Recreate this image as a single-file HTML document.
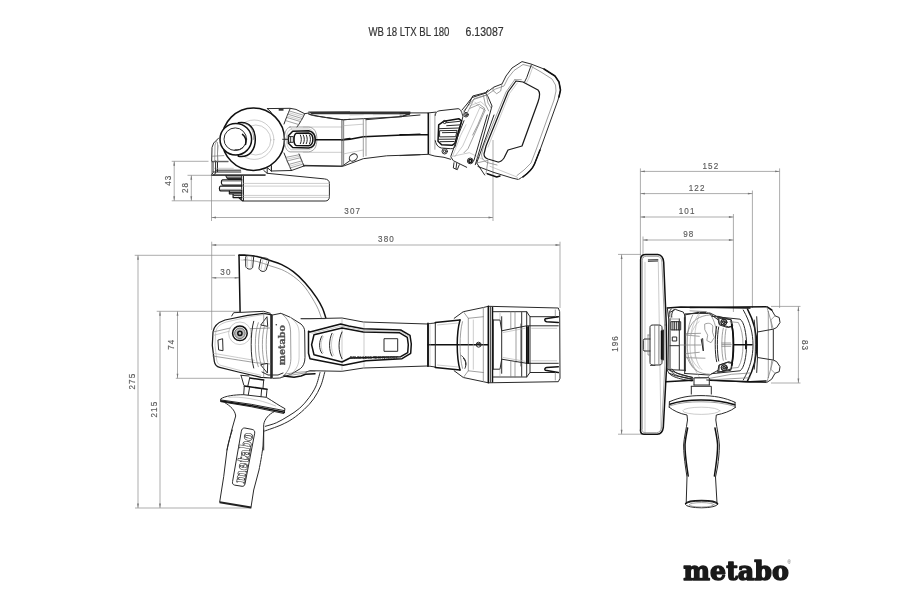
<!DOCTYPE html>
<html><head><meta charset="utf-8"><title>WB 18 LTX BL 180</title>
<style>
html,body{margin:0;padding:0;background:#fff;}
svg{display:block;filter:blur(.4px)}
.m{stroke:#8a8a8a;stroke-width:.7;fill:none}
.ar{fill:#777;stroke:none}
.d{stroke:#2a2a2a;stroke-width:1;fill:none;stroke-linejoin:round;stroke-linecap:round}
.k{stroke:#111;stroke-width:1.5;fill:none;stroke-linejoin:round;stroke-linecap:round}
.g{stroke:#777;stroke-width:.7;fill:none;stroke-linejoin:round;stroke-linecap:round}
.l{stroke:#aaa;stroke-width:.6;fill:none;stroke-linejoin:round;stroke-linecap:round}
.f{fill:#333;stroke:none}
.wk{stroke:#111;stroke-width:1.5;fill:#fff;stroke-linejoin:round}
.w{fill:#fff;stroke:#2a2a2a;stroke-width:1;stroke-linejoin:round}
.t{font-family:"Liberation Sans",sans-serif;font-size:9.4px;fill:#5a5a5a;stroke:#5a5a5a;stroke-width:.15;letter-spacing:1.3px}
.ti{font-family:"Liberation Sans",sans-serif;font-size:12.6px;fill:#333;stroke:#333;stroke-width:.2}
.logo{font-family:"DejaVu Serif","Liberation Serif",serif;font-weight:bold;font-size:26.5px;fill:#1a1a1a;stroke:#1a1a1a;stroke-width:1.5;stroke-linejoin:round}
.mt{font-family:"DejaVu Serif",serif;font-weight:bold;font-size:9.6px;fill:#555;stroke:#555;stroke-width:.35}
.d2{stroke:#1a1a1a;stroke-width:1.25;fill:none;stroke-linejoin:round;stroke-linecap:round}
.bt{font-family:"Liberation Sans",sans-serif;font-weight:bold;font-size:2.6px;fill:#222}
.ht{font-family:"DejaVu Serif",serif;font-weight:bold;font-size:15.5px;fill:#fff;stroke:#333;stroke-width:.7}
.reg{font-family:"Liberation Sans",sans-serif;font-size:4.5px;fill:#555}
</style></head><body>
<svg width="900" height="600" viewBox="0 0 900 600">
<rect width="900" height="600" fill="#fff"/>
<line class="m" x1="171.7" y1="161.3" x2="208.5" y2="161.3"/>
<line class="m" x1="187.5" y1="175.3" x2="215.0" y2="175.3"/>
<line class="m" x1="171.7" y1="200.8" x2="243.0" y2="200.8"/>
<line class="m" x1="174.2" y1="161.3" x2="174.2" y2="200.8"/>
<line class="m" x1="191.3" y1="175.3" x2="191.3" y2="200.8"/>
<line class="m" x1="211.5" y1="160.0" x2="211.5" y2="221.0"/>
<line class="m" x1="211.5" y1="217.5" x2="493.0" y2="217.5"/>
<line class="m" x1="493.0" y1="140.0" x2="493.0" y2="221.0"/>
<line class="m" x1="211.7" y1="241.7" x2="211.7" y2="330.0"/>
<line class="m" x1="211.7" y1="245.0" x2="560.0" y2="245.0"/>
<line class="m" x1="560.0" y1="241.7" x2="560.0" y2="308.0"/>
<line class="m" x1="134.7" y1="255.3" x2="235.0" y2="255.3"/>
<line class="m" x1="138.0" y1="255.3" x2="138.0" y2="508.0"/>
<line class="m" x1="156.7" y1="311.3" x2="240.0" y2="311.3"/>
<line class="m" x1="160.0" y1="311.3" x2="160.0" y2="508.0"/>
<line class="m" x1="177.5" y1="311.3" x2="177.5" y2="378.3"/>
<line class="m" x1="175.8" y1="378.3" x2="240.0" y2="378.3"/>
<line class="m" x1="135.0" y1="508.0" x2="252.0" y2="508.0"/>
<line class="m" x1="211.7" y1="277.8" x2="239.2" y2="277.8"/>
<line class="m" x1="640.4" y1="168.4" x2="640.4" y2="258.0"/>
<line class="m" x1="640.4" y1="171.4" x2="779.6" y2="171.4"/>
<line class="m" x1="779.6" y1="168.4" x2="779.6" y2="308.0"/>
<line class="m" x1="640.4" y1="193.6" x2="752.4" y2="193.6"/>
<line class="m" x1="752.4" y1="190.5" x2="752.4" y2="308.0"/>
<line class="m" x1="640.4" y1="217.0" x2="733.4" y2="217.0"/>
<line class="m" x1="733.4" y1="214.0" x2="733.4" y2="312.0"/>
<line class="m" x1="643.0" y1="240.0" x2="733.4" y2="240.0"/>
<line class="m" x1="643.0" y1="236.5" x2="643.0" y2="258.0"/>
<line class="m" x1="618.0" y1="254.4" x2="641.0" y2="254.4"/>
<line class="m" x1="621.6" y1="254.4" x2="621.6" y2="434.2"/>
<line class="m" x1="618.0" y1="434.2" x2="642.0" y2="434.2"/>
<line class="m" x1="798.4" y1="306.4" x2="798.4" y2="383.0"/>
<line class="m" x1="771.0" y1="306.4" x2="800.5" y2="306.4"/>
<line class="m" x1="771.0" y1="383.0" x2="800.5" y2="383.0"/>
<path class="ar" d="M174.2 161.3 L175.1 165.8 L173.3 165.8 Z"/>
<path class="ar" d="M174.2 200.8 L173.3 196.3 L175.1 196.3 Z"/>
<path class="ar" d="M191.3 175.3 L192.2 179.8 L190.4 179.8 Z"/>
<path class="ar" d="M191.3 200.8 L190.4 196.3 L192.2 196.3 Z"/>
<path class="ar" d="M138.0 255.3 L138.9 259.8 L137.1 259.8 Z"/>
<path class="ar" d="M138.0 508.0 L137.1 503.5 L138.9 503.5 Z"/>
<path class="ar" d="M160.0 311.3 L160.9 315.8 L159.1 315.8 Z"/>
<path class="ar" d="M160.0 508.0 L159.1 503.5 L160.9 503.5 Z"/>
<path class="ar" d="M177.5 311.3 L178.4 315.8 L176.6 315.8 Z"/>
<path class="ar" d="M177.5 378.3 L176.6 373.8 L178.4 373.8 Z"/>
<path class="ar" d="M621.6 254.4 L622.5 258.9 L620.7 258.9 Z"/>
<path class="ar" d="M621.6 434.2 L620.7 429.7 L622.5 429.7 Z"/>
<path class="ar" d="M798.4 306.4 L799.3 310.9 L797.5 310.9 Z"/>
<path class="ar" d="M798.4 383.0 L797.5 378.5 L799.3 378.5 Z"/>
<path class="ar" d="M211.5 217.5 L216.0 216.6 L216.0 218.4 Z"/>
<path class="ar" d="M493.0 217.5 L488.5 218.4 L488.5 216.6 Z"/>
<path class="ar" d="M211.7 245.0 L216.2 244.1 L216.2 245.9 Z"/>
<path class="ar" d="M560.0 245.0 L555.5 245.9 L555.5 244.1 Z"/>
<path class="ar" d="M211.7 277.8 L216.2 276.9 L216.2 278.7 Z"/>
<path class="ar" d="M239.2 277.8 L234.7 278.7 L234.7 276.9 Z"/>
<path class="ar" d="M640.4 171.4 L644.9 170.5 L644.9 172.3 Z"/>
<path class="ar" d="M779.6 171.4 L775.1 172.3 L775.1 170.5 Z"/>
<path class="ar" d="M640.4 193.6 L644.9 192.7 L644.9 194.5 Z"/>
<path class="ar" d="M752.4 193.6 L747.9 194.5 L747.9 192.7 Z"/>
<path class="ar" d="M640.4 217.0 L644.9 216.1 L644.9 217.9 Z"/>
<path class="ar" d="M733.4 217.0 L728.9 217.9 L728.9 216.1 Z"/>
<path class="ar" d="M643.0 240.0 L647.5 239.1 L647.5 240.9 Z"/>
<path class="ar" d="M733.4 240.0 L728.9 240.9 L728.9 239.1 Z"/>
<text class="t" text-anchor="middle" transform="translate(352.75 214.30) rotate(0) scale(.86 1)">307</text>
<text class="t" text-anchor="middle" transform="translate(386.45 241.80) rotate(0) scale(.86 1)">380</text>
<text class="t" text-anchor="middle" transform="translate(225.95 274.80) rotate(0) scale(.86 1)">30</text>
<text class="t" text-anchor="middle" transform="translate(710.85 168.50) rotate(0) scale(.86 1)">152</text>
<text class="t" text-anchor="middle" transform="translate(697.15 190.50) rotate(0) scale(.86 1)">122</text>
<text class="t" text-anchor="middle" transform="translate(687.15 213.70) rotate(0) scale(.86 1)">101</text>
<text class="t" text-anchor="middle" transform="translate(688.85 236.50) rotate(0) scale(.86 1)">98</text>
<text class="t" text-anchor="middle" transform="translate(171.20 180.25) rotate(-90) scale(.86 1)">43</text>
<text class="t" text-anchor="middle" transform="translate(188.00 187.45) rotate(-90) scale(.86 1)">28</text>
<text class="t" text-anchor="middle" transform="translate(174.20 344.25) rotate(-90) scale(.86 1)">74</text>
<text class="t" text-anchor="middle" transform="translate(135.00 381.15) rotate(-90) scale(.86 1)">275</text>
<text class="t" text-anchor="middle" transform="translate(157.00 409.15) rotate(-90) scale(.86 1)">215</text>
<text class="t" text-anchor="middle" transform="translate(618.30 343.45) rotate(-90) scale(.86 1)">196</text>
<text class="t" text-anchor="middle" transform="translate(802.00 345.55) rotate(90) scale(.86 1)">83</text>
<text class="ti" x="368.4" y="35.6" textLength="81" lengthAdjust="spacingAndGlyphs">WB 18 LTX BL 180</text>
<text class="ti" x="465.6" y="35.6" textLength="38" lengthAdjust="spacingAndGlyphs">6.13087</text>
<text class="logo" x="683.3" y="579.6" textLength="105.5" lengthAdjust="spacingAndGlyphs">metabo</text>
<text class="reg" x="787.5" y="563.5">®</text>
<circle class="k" cx="253.3" cy="139.2" r="31.2"/>
<circle class="l" cx="255.8" cy="140.0" r="15.0"/>
<circle class="l" cx="254.2" cy="139.7" r="19.7"/>
<path class="wk" d="M 238.3 122.8 C 250.0 120.8 255.3 130.0 255.3 139.5 C 255.3 149.2 250.0 158.0 238.3 156.2 Z"/>
<path class="g" d="M 243.3 123.3 C 251.3 124.2 253.7 131.7 253.7 139.5"/>
<circle class="wk" cx="235.8" cy="139.2" r="15.8"/>
<circle class="d" cx="235.3" cy="139.2" r="11.3"/>
<path class="d" d="M 218.7 138.0 L 213.7 143.0 L 212.0 147.5 L 211.7 160.8 L 213.0 162.0 L 213.0 172.5 L 211.7 175.0"/>
<path class="g" d="M 217.0 140.0 L 215.0 145.0 L 214.7 161.3"/>
<path class="l" d="M 218.7 145.0 L 217.5 153.3 L 218.3 161.3"/>
<path class="d" d="M 212.0 161.7 L 228.0 161.7"/>
<path class="d" d="M 217.5 162.2 L 217.5 171.7"/>
<path class="l" d="M 213.0 168.3 L 233.3 168.3"/>
<path class="d" d="M 213.0 172.0 L 240.8 172.0"/>
<path class="d" d="M 212.0 175.3 L 265.0 175.3"/>
<path class="d" d="M 267.3 108.6 L 290.0 108.3 L 296.0 109.4 L 304.7 113.7 L 308.7 113.0"/>
<path class="d" d="M 267.3 108.6 L 271.3 112.3"/>
<rect class="f" x="278.7" y="108.3" width="4.8" height="2.4"/>
<path class="d" d="M 290.0 109.0 C 288.0 114.0 285.5 119.0 284.0 124.0"/>
<path class="d" d="M 304.7 113.7 C 303.0 118.0 299.5 123.5 297.0 127.0"/>
<path class="g" d="M 289.5 111.0 L 303.8 115.3 M 288.2 114.3 L 302.3 118.6 M 287.0 117.5 L 300.5 121.6 M 285.7 120.6 L 298.8 124.6"/>
<path class="l" d="M 288.8 112.6 L 303.0 117.0 M 287.6 116.0 L 301.4 120.2"/>
<path class="d" d="M 284.0 153.0 C 286.0 159.0 289.0 165.0 291.5 170.5"/>
<path class="d" d="M 299.0 154.0 C 300.5 158.0 302.5 162.5 304.0 166.0"/>
<path class="g" d="M 285.3 157.5 L 299.8 154.6 M 287.0 161.0 L 300.8 157.6 M 288.5 164.5 L 302.0 160.8 M 290.0 168.0 L 303.3 164.0"/>
<path class="l" d="M 286.2 159.3 L 300.3 156.1 M 289.3 166.3 L 302.7 162.4"/>
<path class="d" d="M 291.5 170.5 L 304.0 166.0"/>
<path class="d" d="M 304.0 165.9 L 342.0 166.3 L 350.0 160.6"/>
<path class="d" d="M 267.3 167.7 L 271.3 171.0 L 291.5 170.5"/>
<path class="d" d="M 271.3 167.0 L 271.3 171.0"/>
<path class="g" d="M 290.0 127.0 L 308.7 127.0 C 314.0 127.7 316.7 131.0 316.9 139.3 C 316.7 147.7 314.0 151.0 308.7 151.9 L 290.0 151.9 C 286.0 151.0 284.4 145.7 284.4 139.3 C 284.4 133.0 286.0 127.9 290.0 127.0 Z"/>
<path class="l" d="M 291.3 129.0 L 308.7 129.0 C 312.7 129.7 314.7 133.0 314.8 139.3 C 314.7 145.7 312.7 149.0 308.7 149.7 L 291.3 149.7 C 288.0 148.3 286.3 144.3 286.3 139.3 C 286.3 134.3 288.0 129.9 291.3 129.0 Z"/>
<path class="k" d="M 292.7 131.3 L 308.7 130.7 C 313.3 131.7 315.3 135.0 315.3 139.4 C 315.3 143.7 313.3 147.3 308.7 147.9 L 292.7 147.5 L 288.4 143.3 L 288.4 135.7 Z"/>
<path class="k" d="M 296.0 133.3 L 308.7 133.0 C 311.6 133.7 312.9 136.3 312.9 139.4 C 312.9 142.3 311.6 145.0 308.7 145.7 L 296.0 145.4 C 294.3 144.3 294.0 141.7 294.0 139.4 C 294.0 136.6 294.3 134.3 296.0 133.3 Z"/>
<path class="d" d="M 300.4 135.0 C 301.7 137.7 301.7 141.0 300.4 143.7"/>
<path class="d" d="M 303.3 135.0 C 304.7 137.7 304.7 141.0 303.3 143.7"/>
<path class="d" d="M 306.3 135.0 C 307.6 137.7 307.6 141.0 306.3 143.7"/>
<path class="d" d="M 309.5 135.0 C 310.8 137.7 310.8 141.0 309.5 143.7"/>
<path class="d" d="M 288.4 136.6 L 293.3 136.6 L 293.3 142.3 L 288.4 142.3 M 290.7 136.6 L 290.7 142.3"/>
<path class="d" d="M 282.7 139.3 L 288.4 139.3"/>
<path class="k" d="M 315.3 139.7 L 342.0 139.7 L 350.0 138.6"/>
<path class="l" d="M 303.3 127.0 L 342.0 127.0 M 303.3 152.3 L 342.0 152.3"/>
<path class="g" d="M 341.7 120.3 L 341.7 166.3 M 343.3 120.3 L 343.3 165.7"/>
<path class="f" d="M 308.7 112.1 L 350.0 111.5 L 350.0 112.5 L 312.7 113.3 Z"/>
<path class="d" d="M 308.7 113.0 C 308.7 115.0 311.3 115.7 330.0 117.9 L 343.3 119.9 L 350.0 119.3"/>
<path class="f" d="M 308.0 111.5 L 410.3 111.5 L 410.3 113.7 L 400.0 114.2 L 311.7 114.3 Z"/>
<path class="d" d="M 308.7 114.2 C 320.0 116.7 333.3 119.2 343.3 119.7 L 363.3 118.7 L 401.7 116.7 L 410.0 113.3"/>
<path class="l" d="M 350.0 115.0 L 363.3 114.7 M 373.3 114.7 L 400.0 114.3"/>
<path class="k" d="M 341.7 140.0 L 350.0 139.2 L 363.3 136.7 L 420.0 134.2"/>
<path class="g" d="M 342.0 120.3 L 342.0 165.8 M 343.7 120.3 L 343.7 165.8"/>
<path class="g" d="M 363.3 119.2 L 363.3 156.7 M 366.0 119.2 L 366.0 155.8"/>
<path class="d" d="M 303.3 165.3 L 342.0 166.2 L 344.2 165.8 L 363.3 158.7 L 386.7 155.8 L 420.0 154.7"/>
<path class="l" d="M 342.0 125.8 L 363.3 124.2 M 342.0 154.2 L 363.3 150.0"/>
<ellipse class="d" cx="353.3" cy="157.5" rx="4.3" ry="3.3" transform="rotate(-35 353.3 157.5)"/>
<path class="d" d="M 366.0 119.7 L 420.0 115.0"/>
<path class="d" d="M 215.6 160.9 L 215.6 173.3 L 213.2 174.9 L 265.3 174.9"/>
<path class="d" d="M 215.6 170.2 L 240.7 170.2"/>
<path class="d" d="M 263.8 170.5 L 267.2 173.3 L 324.4 178.9 C 327.8 179.2 329.4 180.8 329.4 183.4 L 329.4 196.7 C 329.4 199.5 327.8 201.0 325.2 201.0 L 243.9 201.0"/>
<path class="d" d="M 267.2 167.1 L 267.2 173.3 M 271.5 165.6 L 271.5 171.0"/>
<path class="d" d="M 241.7 175.7 L 241.7 199.0 M 243.5 176.4 L 243.5 201.0"/>
<path class="l" d="M 243.5 183.4 L 329.1 183.4 M 243.5 186.1 L 329.1 186.1 M 243.5 195.4 L 329.1 195.4 M 243.5 197.4 L 329.1 197.4"/>
<path class="d" d="M 225.7 175.7 L 241.2 175.7 M 225.7 175.7 L 228.0 179.5 L 241.2 179.5 M 226.4 177.2 L 241.2 177.2 M 227.2 178.5 L 241.2 178.5"/>
<path class="d2" d="M 241.9 179.8 L 222.5 179.8 C 221.0 180.2 221.0 184.5 222.5 185.0 L 241.9 185.0"/>
<path class="d2" d="M 241.9 186.0 L 220.6 186.0 C 219.0 186.5 219.0 190.4 220.6 190.9 L 241.9 190.9"/>
<path class="g" d="M 222.5 181.2 L 241.9 181.2 M 220.6 189.4 L 241.9 189.4"/>
<path class="d2" d="M 229.4 191.1 L 229.4 193.8 L 241.9 193.8 M 233.1 193.8 L 233.1 197.5 L 241.9 197.5 M 238.5 197.5 L 242.5 200.8"/>
<path class="d" d="M 230.0 192.5 L 241.9 192.5 M 233.8 195.6 L 241.9 195.6"/>
<path class="g" d="M 212.5 156.2 L 223.8 155.6 M 212.5 161.2 L 228.1 161.2 M 217.5 142.5 L 217.5 161.0"/>
<path class="k" d="M 242.5 134.4 C 245.6 136.9 246.5 140.6 245.6 144.4"/>
<path class="d" d="M 235.0 149.8 C 238.1 150.2 241.2 149.4 243.1 147.5"/>
<path class="d" d="M 400.0 112.9 L 428.3 112.9 L 436.0 112.1"/>
<path class="d" d="M 400.0 113.7 L 410.0 114.0 L 402.7 116.0 L 400.0 116.0"/>
<path class="k" d="M 428.3 113.3 L 428.3 153.7"/>
<path class="g" d="M 434.9 114.0 L 434.9 149.3"/>
<path class="l" d="M 430.0 113.3 L 430.0 154.0"/>
<path class="k" d="M 400.0 134.7 L 428.3 134.7"/>
<path class="d" d="M 400.0 155.6 L 428.3 154.3 L 434.9 156.1 L 444.0 157.3 L 450.7 159.3"/>
<path class="d" d="M 435.3 115.3 C 435.7 111.6 437.3 111.3 440.0 110.7 L 458.0 108.7 C 460.7 108.7 462.0 112.7 462.9 116.7 L 455.3 146.0 C 454.7 148.0 453.3 148.7 450.7 148.7 L 441.3 148.0 C 437.3 147.3 435.7 143.3 435.3 140.7"/>
<path class="k" d="M 438.7 124.9 L 444.0 121.2 L 458.7 118.7 L 461.6 120.9 L 454.9 143.3 L 452.0 145.3 L 441.6 144.7 L 438.0 141.3 Z"/>
<path class="d" d="M 446.7 122.7 L 460.0 121.3 M 446.7 125.7 L 459.7 124.9 M 438.7 128.7 L 458.7 128.0 M 440.0 130.7 L 457.1 130.4 L 455.7 136.7 L 440.0 136.9 Z M 442.4 132.7 L 456.0 132.4 M 438.4 139.3 L 455.3 139.1 M 440.0 141.7 L 454.0 141.5"/>
<circle class="d" cx="466.0" cy="114.7" r="2.3"/>
<circle class="d" cx="466.0" cy="114.7" r="1.1"/>
<circle class="d" cx="444.7" cy="122.0" r="1.6"/>
<circle class="d" cx="444.7" cy="151.3" r="2.7"/>
<circle class="d" cx="444.7" cy="151.3" r="1.3"/>
<circle class="d" cx="470.3" cy="160.9" r="2.9"/>
<circle class="k" cx="470.3" cy="160.9" r="1.5"/>
<path class="d" d="M 464.0 112.0 L 469.3 103.3 L 472.7 96.0 L 485.3 92.7 L 488.0 90.0"/>
<path class="g" d="M 466.7 114.0 L 471.3 104.7 L 474.0 98.7 L 485.3 95.3"/>
<path class="d" d="M 485.3 92.7 L 488.0 96.7 L 492.0 106.0 L 480.0 148.7 L 475.3 164.7"/>
<path class="g" d="M 480.0 107.3 L 485.3 110.0 L 468.0 148.7 L 464.0 152.7"/>
<path class="l" d="M 474.7 102.0 L 480.0 107.3 L 462.7 146.0 L 454.7 156.7"/>
<path class="d" d="M 464.0 120.7 L 458.7 134.0 L 450.7 156.7 L 453.3 160.7 L 466.7 167.3"/>
<path class="l" d="M 466.0 124.7 L 460.7 135.3 L 452.7 156.0"/>
<path class="l" d="M 450.7 156.7 L 469.3 152.7 L 482.7 159.3"/>
<path class="d" d="M 454.0 162.7 L 453.3 168.0 L 457.3 169.7 L 459.3 164.7 M 456.7 163.3 L 456.0 168.7"/>
<path class="d" d="M 462.0 110.0 L 467.0 104.0 L 472.0 97.5 L 486.0 93.0 L 494.0 87.0 L 502.0 84.0 L 506.0 76.0 L 512.0 68.0 L 522.0 61.6 L 531.0 64.0 L 544.0 69.0 L 555.0 76.0 L 559.0 82.0 L 560.5 90.0 L 558.0 100.0 L 540.0 150.0 L 534.5 164.0 C 532.0 170.0 527.0 174.0 518.5 179.5 L 512.0 178.0 L 494.0 172.5 L 478.0 166.5"/>
<path class="k" d="M 544.0 69.0 L 555.0 76.0 L 559.0 82.0 L 560.5 90.0 L 559.0 97.0"/>
<path class="k" d="M 540.0 150.0 L 534.5 164.0 C 532.0 170.0 527.0 174.0 523.0 177.0"/>
<path class="g" d="M 463.5 111.0 L 468.5 105.5 L 473.5 99.5 L 487.0 95.0 L 495.5 89.0 L 504.0 86.0 L 508.0 78.0 L 514.0 70.5 L 523.0 64.5 L 531.0 66.5"/>
<path class="d" d="M 531.3 65.0 L 526.7 77.7 L 524.7 81.7"/>
<path class="l" d="M 533.3 65.7 L 528.7 78.4 L 526.7 82.4"/>
<path class="g" d="M 531.3 66.5 L 541.0 72.0 L 552.0 79.0 L 555.5 85.0 L 556.0 91.0 L 554.0 100.0 L 536.0 150.0 L 531.0 163.0 L 524.0 170.0 L 517.0 175.5"/>
<path class="g" d="M 494.0 87.0 L 492.7 90.3 L 496.7 93.7 L 500.7 91.0 L 502.0 84.0"/>
<path class="g" d="M 486.0 93.0 L 488.0 103.0 L 491.3 108.3 M 483.3 95.0 L 485.3 104.3 L 488.7 111.0"/>
<path class="d2" d="M 516.0 81.0 L 523.0 82.0 L 538.0 90.0 C 540.0 92.0 540.5 95.0 538.0 102.0 L 522.0 146.0 L 508.0 150.0 L 504.0 158.0 C 502.0 161.0 500.0 162.0 498.0 162.0 L 488.0 159.0 C 485.0 158.0 484.0 156.0 484.0 154.0 L 486.0 146.0 L 508.0 92.0 Z"/>
<path class="g" d="M 514.7 79.7 L 521.3 79.7 M 514.7 79.7 L 506.0 92.0 L 483.5 146.5 L 481.5 155.0 C 482.0 159.0 484.0 161.0 487.0 162.5 L 497.0 165.0"/>
<path class="l" d="M 517.3 83.0 L 509.5 93.5 L 488.0 147.0"/>
<path class="g" d="M 470.0 108.3 L 479.3 104.3 L 484.7 108.3 L 478.0 124.3 L 472.7 135.0"/>
<path class="l" d="M 470.0 105.7 L 480.7 101.7 L 486.7 107.0"/>
<path class="d" d="M 494.0 115.0 L 476.7 163.0 L 484.7 175.0 M 487.3 115.0 L 474.0 160.3"/>
<path class="g" d="M 476.7 163.0 L 488.0 160.3 L 486.0 173.7"/>
<path class="l" d="M 490.0 166.3 L 517.0 177.0 L 518.5 179.5"/>
<path class="k" d="M 487.3 173.7 L 496.7 177.0 L 500.0 176.0"/>
<path class="k" d="M239.2 255.3 C240.3 255.3 243.0 255.1 246.0 255.3 C249.0 255.5 253.0 255.7 257.0 256.6 C261.0 257.5 265.9 259.2 270.0 260.5 C274.1 261.8 277.8 262.8 281.7 264.6 C285.6 266.5 289.4 268.6 293.3 271.6 C297.2 274.6 301.1 278.3 305.0 282.7 C308.9 287.1 313.8 293.5 316.7 297.8 C319.6 302.1 321.0 305.0 322.5 308.3 C324.0 311.6 325.2 316.1 325.8 317.7"/>
<path class="g" d="M244.0 259.6 C246.2 259.9 252.7 260.5 257.0 261.5 C261.3 262.5 265.9 264.4 270.0 265.8 C274.1 267.2 277.8 267.9 281.7 269.6 C285.6 271.4 289.4 273.4 293.3 276.3 C297.2 279.2 301.1 282.4 305.0 287.3 C308.9 292.2 314.0 300.9 316.7 306.0 C319.4 311.1 320.5 315.8 321.3 317.7"/>
<path class="d" d="M324.8 372.0 C324.1 374.3 322.6 381.5 320.7 386.0 C318.8 390.5 316.4 394.9 313.7 398.8 C311.0 402.7 307.8 406.0 304.3 409.3 C300.8 412.6 296.6 416.1 292.7 418.7 C288.8 421.3 285.7 422.9 281.0 425.0 C276.3 427.1 267.4 430.0 264.7 431.0"/>
<path class="d" d="M320.0 372.6 C319.3 374.8 317.8 381.8 316.0 386.0 C314.2 390.2 311.7 394.0 309.0 397.7 C306.3 401.4 303.2 405.1 299.7 408.2 C296.2 411.3 291.9 413.9 288.0 416.3 C284.1 418.7 280.1 421.1 276.3 422.8 C272.5 424.5 267.1 425.7 265.3 426.3"/>
<path class="k" d="M 239.0 255.3 L 240.1 311.6"/>
<path class="k" d="M 239.0 255.3 L 245.0 255.3"/>
<path class="l" d="M 241.0 260.0 L 245.7 260.4"/>
<path class="d" d="M 245.7 256.4 C 245.7 255.1 253.0 255.1 253.7 256.7 L 252.7 267.3 C 251.7 270.0 246.6 269.7 245.8 266.7 Z"/>
<path class="l" d="M 247.4 257.3 L 247.7 267.3 M 251.7 257.3 L 251.0 268.0"/>
<path class="d" d="M 261.0 258.7 C 261.7 256.9 268.3 258.0 269.3 260.0 L 266.1 270.0 C 264.3 272.7 259.4 271.3 259.0 268.7 Z"/>
<path class="l" d="M 263.0 259.3 L 261.0 269.3 M 267.0 260.4 L 264.3 270.7"/>
<path class="d" d="M 231.7 316.0 L 233.7 312.7 L 263.7 311.3 L 270.3 313.3"/>
<path class="d2" d="M 271.7 314.9 L 263.7 313.3 L 247.7 315.3 L 225.0 320.0 C 217.0 322.7 213.7 326.7 213.0 332.0 L 212.3 345.3 L 214.3 361.3 C 215.0 365.3 217.0 366.7 219.7 367.3 L 238.3 372.0 L 261.0 377.3 L 271.0 378.0"/>
<path class="l" d="M 263.0 314.7 L 247.7 317.1 L 226.3 322.0 C 219.7 324.0 216.3 327.3 215.7 332.7 L 215.0 345.3 L 216.7 360.0 C 217.3 363.7 219.0 365.1 221.7 365.6 L 238.3 370.0 L 261.0 375.3"/>
<path class="d" d="M 270.7 314.9 L 270.7 378.0"/>
<path class="d" d="M 271.5 314.9 L 271.5 378.0"/>
<path class="d" d="M 272.3 314.9 L 272.3 378.0"/>
<path class="d" d="M 273.0 314.9 L 281.0 313.3 L 290.3 317.3 L 301.0 324.0 C 303.7 326.7 304.7 328.7 304.7 332.0 L 305.0 357.3 C 305.0 362.7 303.0 366.7 300.3 368.7 L 290.3 374.7 L 279.7 378.0 L 273.0 378.3"/>
<path class="g" d="M 281.0 313.3 C 288.3 318.7 290.3 324.0 290.6 332.0 L 290.9 358.7 C 290.6 366.7 288.3 372.7 280.3 378.0"/>
<path class="l" d="M 290.3 317.3 C 297.0 322.7 299.0 326.7 299.1 333.3 L 299.1 357.3 C 299.0 364.0 297.0 369.3 290.3 374.7"/>
<path class="g" d="M 301.0 318.7 L 325.0 318.7 M 290.3 375.3 L 306.3 372.7"/>
<circle class="l" cx="239.9" cy="333.3" r="11.3"/>
<circle class="k" cx="239.9" cy="333.3" r="7.3"/>
<circle cx="239.9" cy="333.3" r="5.3" fill="#bbb" stroke="#444" stroke-width=".7"/>
<circle class="k" cx="239.9" cy="333.3" r="2.1"/>
<path class="d" d="M 218.3 340.0 L 222.6 338.7 L 223.0 350.7 L 219.0 350.0 Z"/>
<path class="g" d="M 213.0 332.0 L 230.3 328.0 M 250.3 328.7 L 270.3 328.0 M 212.7 356.0 L 238.3 360.0 L 255.7 362.7 L 270.3 364.0"/>
<path class="l" d="M 213.7 335.3 L 229.0 331.3 M 213.3 353.3 L 238.3 357.6 L 254.3 360.3"/>
<path class="g" d="M 258.3 322.7 C 254.3 333.3 254.3 356.0 258.3 366.7 M 261.0 325.3 C 257.7 334.7 257.7 354.7 261.0 364.0 M 264.3 326.7 C 261.7 336.0 261.7 353.3 264.3 362.7 M 267.7 327.3 C 265.7 336.0 265.7 353.3 267.7 362.0"/>
<path class="d" d="M 253.7 321.3 C 250.3 333.3 250.3 356.0 253.7 368.0"/>
<path class="d" d="M 261.0 324.7 L 267.0 316.7 L 267.7 326.0 Z M 261.0 364.7 L 267.7 363.3 L 267.4 372.7 Z"/>
<path class="g" d="M 263.7 313.3 L 263.7 324.7 M 263.7 365.3 L 263.7 377.3"/>
<circle class="f" cx="276.3" cy="324.7" r="0.8"/>
<text class="mt" transform="translate(284.6 365.2) rotate(-90)" textLength="40" lengthAdjust="spacingAndGlyphs">metabo</text>
<path class="d" d="M 301.1 318.7 L 310.0 318.7 L 342.0 318.0 L 363.3 322.0 L 427.3 324.0"/>
<path class="d" d="M 306.0 372.0 L 310.0 370.7 L 342.0 371.3 L 363.3 368.0 L 427.3 366.0"/>
<path class="k" d="M 428.0 324.0 L 428.0 366.3"/>
<path class="l" d="M 342.0 318.0 L 342.0 371.3 M 364.0 322.0 L 364.0 368.0"/>
<path class="k" d="M 310.0 332.0 L 340.7 324.0 L 348.7 326.0 L 363.3 328.7 L 400.7 330.0 L 410.0 335.3 L 411.3 344.0 L 410.7 353.3 L 402.0 358.7 L 366.0 360.7 L 343.3 365.3 L 310.0 358.7 L 308.5 353.3 L 308.5 331.3 Z"/>
<path class="k" d="M 314.0 334.7 L 342.0 328.0 L 363.3 332.0 L 399.3 332.7 L 407.3 337.3 L 408.3 344.7 L 407.7 352.7 L 400.7 356.7 L 350.0 358.0 L 342.0 362.0 L 314.0 354.7 L 311.6 344.7 Z"/>
<path class="l" d="M 312.0 333.3 L 341.3 326.0 L 363.3 330.4 L 400.0 331.3 L 408.7 336.3"/>
<path class="d" d="M 322.0 336.0 C 318.7 341.3 318.7 349.3 322.0 353.3 M 332.0 333.3 C 328.7 340.0 328.7 350.7 332.0 356.0 M 342.0 332.0 C 338.0 340.0 338.0 352.0 342.0 358.7"/>
<path class="l" d="M 323.3 336.7 C 320.4 341.3 320.4 348.7 323.3 352.7 M 333.7 334.0 C 330.7 340.0 330.7 350.0 333.7 355.3"/>
<path class="d" d="M 384.4 338.7 L 397.7 338.7 L 397.7 351.3 L 384.4 351.3 Z"/>
<text class="bt" x="350" y="358.9" textLength="48" lengthAdjust="spacingAndGlyphs">BRUSHLESS  TECHNOLOGY</text>
<path class="g" d="M 284.0 375.5 L 286.3 373.8 L 301.0 372.0 L 315.0 371.4"/>
<path class="k" d="M 284.0 376.0 L 294.0 377.2 L 301.0 376.0 L 305.5 374.3 L 315.0 373.7"/>
<path class="d" d="M 262.0 372.0 L 268.0 375.0 L 278.0 375.0 L 283.0 373.0"/>
<path class="g" d="M 516.0 327.7 L 516.0 362.2 M 520.5 324.0 L 520.5 366.0"/>
<path class="k" d="M 428.0 323.3 L 428.0 366.3"/>
<path class="k" d="M 428.0 344.7 L 488.3 344.7"/>
<path class="d" d="M 435.3 322.5 L 435.3 367.5"/>
<path class="d" d="M 428.0 323.7 L 435.3 323.0 M 428.0 366.0 L 435.3 367.0"/>
<path class="l" d="M 430.0 323.7 L 430.0 366.0"/>
<path class="k" d="M 435.3 322.5 L 460.0 320.0 M 435.3 367.5 L 460.0 370.0"/>
<path class="k" d="M 460.0 320.0 C 456.3 333.3 456.3 356.7 460.0 370.0"/>
<path class="g" d="M 462.5 321.7 C 459.2 333.3 459.2 356.7 462.5 368.3"/>
<path class="l" d="M 437.5 325.0 L 458.3 323.0 M 437.5 365.0 L 458.3 367.0"/>
<path class="d" d="M 454.2 318.3 L 463.3 311.7 L 483.3 307.5 L 488.3 306.3 L 558.3 308.0 L 559.7 311.7 L 560.0 378.3 L 558.3 381.7 L 488.3 382.8 L 483.3 381.7 L 463.3 377.5 L 454.2 370.8"/>
<path class="k" d="M 488.3 306.3 L 488.3 382.8 M 492.5 307.5 L 492.5 382.0"/>
<path class="d" d="M 490.3 307.0 L 490.3 382.3"/>
<path class="g" d="M 463.3 311.7 L 468.3 318.3 L 483.3 316.7 M 463.3 377.5 L 468.3 370.8 L 483.3 372.5 M 468.3 318.3 L 468.3 370.8 M 483.3 307.5 L 483.3 381.7"/>
<path class="l" d="M 473.3 320.0 L 473.3 369.2"/>
<path class="d" d="M 463.3 358.3 C 465.8 360.0 466.7 365.0 465.0 368.3 M 461.7 355.8 C 465.0 358.3 466.3 361.7 465.8 365.0"/>
<circle class="d" cx="478.7" cy="344.7" r="2.5"/>
<path class="d" d="M 477.5 343.7 L 480.0 343.7 L 480.0 345.8"/>
<path class="d" d="M 493.3 311.7 L 526.7 311.7 L 530.0 316.7 L 558.3 316.7 M 493.3 377.0 L 526.7 377.0 L 530.0 372.5 L 558.3 372.5"/>
<path class="d" d="M 493.3 320.0 L 500.0 320.0 L 501.7 330.8 L 526.7 325.8 L 558.3 325.8 M 493.3 369.2 L 500.0 369.2 L 501.7 359.2 L 526.7 363.3 L 558.3 363.3"/>
<path class="d" d="M 493.3 320.0 L 493.3 369.2 M 501.7 316.7 L 501.7 373.3 M 526.7 311.7 L 526.7 377.0 M 530.0 316.7 L 530.0 372.5 M 521.7 312.5 L 521.7 376.3"/>
<path class="g" d="M 515.0 311.7 L 515.0 328.3 M 515.0 361.7 L 515.0 377.0 M 510.8 311.7 L 510.8 329.2 M 510.8 360.8 L 510.8 377.0"/>
<path class="k" d="M 526.7 326.7 L 526.7 363.3 M 528.3 326.7 L 528.3 363.3"/>
<path class="l" d="M 503.3 332.5 L 525.0 328.3 M 503.3 357.5 L 525.0 361.3 M 531.7 328.3 L 556.7 328.3 M 531.7 360.8 L 556.7 360.8 M 500.0 313.3 L 500.0 320.0 M 500.0 369.2 L 500.0 375.8"/>
<path class="k" d="M 558.3 316.7 L 545.3 318.7 C 544.2 320.0 545.0 321.3 546.7 321.7 L 558.3 322.5 M 558.3 372.5 L 545.3 370.3 C 544.2 369.2 545.0 367.8 546.7 367.5 L 558.3 366.7"/>
<path class="g" d="M 555.3 310.0 L 555.3 316.7 M 555.3 372.5 L 555.3 380.0"/>
<path class="k" d="M 249.7 378.0 L 263.7 380.0"/>
<path class="d" d="M 249.7 378.0 L 247.9 385.7 M 263.7 380.0 L 263.0 388.4"/>
<path class="d" d="M 241.0 375.3 L 243.7 384.7 M 241.0 375.3 L 249.0 376.0"/>
<path class="k" d="M 244.3 386.0 L 267.0 389.3"/>
<path class="d" d="M 244.3 386.0 L 243.7 394.3 M 267.0 389.3 L 266.3 396.9 M 249.7 386.8 L 248.3 394.8 M 261.7 388.7 L 261.0 396.7"/>
<path class="d" d="M 221.0 398.7 C 225.0 396.0 234.3 394.7 243.7 394.7 L 266.3 397.3 C 273.0 401.3 279.7 406.0 285.0 408.7 L 283.9 413.5 L 251.7 406.8 L 221.0 401.7 Z"/>
<path class="d" d="M 221.3 400.0 L 251.7 404.4 L 284.7 410.7"/>
<path class="k" d="M 221.1 400.9 L 251.7 405.7 L 284.3 412.3"/>
<path class="l" d="M 229.0 397.3 C 239.7 396.4 258.3 398.7 275.7 406.0"/>
<path class="d" d="M 225.0 402.7 C 230.3 406.0 235.0 410.0 235.7 416.0 L 231.7 430.0 L 227.0 450.0"/>
<path class="d" d="M 274.3 411.6 C 269.0 414.0 264.3 419.3 263.7 424.7 L 263.7 450.0"/>
<path class="d" d="M 232.3 430.0 C 229.7 438.0 227.7 444.7 227.0 450.0 L 223.7 476.7 L 219.7 502.0"/>
<path class="d" d="M 263.7 430.0 L 263.0 446.0 C 261.7 456.7 260.3 463.3 259.0 470.0 L 253.7 490.0 L 251.0 507.3"/>
<path d="M219.6 502.2 L251.1 507.6" stroke="#222" stroke-width="2" fill="none"/>
<path class="d" d="M 241.3 431.4 C 241.6 429.1 242.8 427.9 244.8 428.0 L 252.1 429.4 C 254.1 429.9 255.0 431.1 254.7 433.2 L 245.0 483.9 C 244.5 485.7 243.6 486.5 242.1 486.3 L 234.6 485.1 C 232.9 484.7 232.2 483.6 232.5 481.9 Z"/>
<text class="ht" transform="translate(244.6 483.8) rotate(-80.4)" textLength="51" lengthAdjust="spacingAndGlyphs">metabo</text>
<path class="k" d="M 640.6 430.1 L 640.6 259.7 C 640.6 256.3 642.3 254.6 645.7 254.6 L 657.7 254.6 C 661.7 255.0 663.3 257.7 663.7 262.3 L 666.3 325.0"/>
<path class="g" d="M 642.3 429.0 L 642.3 260.3 C 642.3 257.7 643.7 256.3 646.3 256.3 L 657.0 256.3 C 660.3 256.7 661.7 258.3 661.9 262.3 L 664.6 325.0"/>
<path class="l" d="M 645.0 262.3 L 645.0 434.3 M 658.3 262.3 L 661.0 431.7"/>
<path class="d" d="M 648.3 259.9 L 657.9 259.7 M 648.3 261.3 L 657.9 261.0"/>
<path class="k" d="M 640.4 430.3 C 640.7 433.0 642.0 434.3 644.0 434.3 L 657.3 434.3 C 660.7 434.1 662.7 431.7 663.3 427.7 L 666.7 365.0 L 666.3 325.0"/>
<path class="g" d="M 642.0 429.7 C 642.3 431.7 643.3 432.7 644.9 432.7 L 656.7 432.7 C 659.6 432.3 661.3 430.3 661.7 427.0 L 664.9 365.0 L 664.6 325.0"/>
<path class="f" d="M 650.0 365.0 L 655.3 365.0 L 655.3 365.8 L 650.0 365.8 Z"/>
<path class="d" d="M 650.0 327.0 C 650.0 325.4 651.3 325.0 653.3 325.0 L 658.7 325.0 C 660.9 325.0 662.0 325.9 662.0 327.7 L 662.0 362.3 C 662.0 364.3 660.9 365.0 658.7 365.0 L 653.3 365.0 C 651.3 365.0 650.0 364.3 650.0 362.7 Z"/>
<path class="g" d="M 654.7 325.4 L 654.7 364.6 M 658.7 325.4 L 658.7 364.6"/>
<path class="k" d="M 661.5 331.0 L 661.5 359.0 M 663.1 330.3 L 663.1 359.7"/>
<path class="d" d="M 650.0 339.0 L 644.0 339.0 L 643.3 340.3 L 643.3 349.7 L 644.0 351.0 L 650.0 351.0"/>
<path class="g" d="M 648.0 335.0 L 648.0 355.0 L 650.0 355.0 M 648.0 335.0 L 650.0 335.0"/>
<path class="k" d="M 667.3 307.9 L 680.7 307.0 L 750.0 308.1"/>
<path class="d" d="M 667.3 307.9 L 668.7 319.0 L 668.0 369.7"/>
<path class="d" d="M 670.0 312.3 L 675.3 309.4 L 683.3 312.1 L 685.3 316.3 L 685.3 371.0"/>
<path class="d" d="M 670.0 319.0 L 670.0 369.7 M 679.3 319.0 L 679.3 369.7 M 684.4 317.7 L 684.4 369.7"/>
<path class="g" d="M 670.0 312.3 L 670.0 319.0 L 679.3 319.0"/>
<path class="d" d="M 671.3 321.7 L 680.7 321.7 L 680.7 329.9 L 671.3 329.9 Z M 672.9 321.7 L 672.9 329.9 M 674.7 321.7 L 674.7 329.9 M 676.7 321.7 L 676.7 329.9 M 678.7 321.7 L 678.7 329.9"/>
<path class="d" d="M 672.7 337.0 L 676.7 337.0 L 676.7 341.0 L 672.7 341.0 Z"/>
<path class="d" d="M 670.0 345.7 L 679.3 345.7 M 670.0 369.7 L 685.3 370.3"/>
<path class="d" d="M 685.3 313.9 L 710.0 313.0 L 716.7 316.3 L 720.7 318.3"/>
<path class="f" d="M 696.7 311.7 L 706.0 311.7 L 706.0 313.0 L 696.7 313.0 Z"/>
<path class="g" d="M 692.7 315.0 C 686.7 325.7 686.0 348.3 688.7 357.7 C 690.7 364.3 694.0 368.3 696.7 370.3"/>
<path class="l" d="M 699.3 315.0 C 694.0 325.7 693.3 348.3 696.0 357.7 C 697.3 363.0 699.3 367.0 702.0 369.7"/>
<path class="g" d="M 710.0 313.7 C 715.3 321.7 716.7 329.7 716.0 335.0 M 685.3 335.0 L 699.3 336.3 M 685.3 353.7 L 699.3 352.3"/>
<path class="d" d="M 702.7 339.0 L 703.3 351.0 L 701.3 339.7 Z"/>
<path class="d" d="M 718.0 316.3 L 731.3 319.7 L 732.7 325.7 L 728.7 327.0 L 719.3 323.7 Z M 718.0 372.3 L 731.3 369.0 L 732.7 363.0 L 728.7 361.7 L 719.3 365.0 Z"/>
<circle class="d" cx="724.0" cy="322.3" r="2.9"/>
<circle class="d" cx="724.0" cy="322.3" r="1.3"/>
<circle class="d" cx="724.0" cy="367.7" r="2.9"/>
<circle class="d" cx="724.0" cy="367.7" r="1.3"/>
<path class="d" d="M 716.7 326.3 C 714.7 335.0 714.7 353.7 716.7 361.7 M 718.7 327.0 C 716.9 335.0 716.9 353.7 718.7 361.0"/>
<path class="g" d="M 723.3 328.3 C 721.3 336.3 721.3 352.3 723.3 360.3 M 726.0 329.0 C 724.4 336.3 724.4 352.3 726.0 359.7"/>
<path class="k" d="M 732.0 326.3 C 733.7 335.0 733.7 353.7 732.0 362.3"/>
<path class="g" d="M 722.0 344.6 L 731.3 344.6 M 722.0 343.0 L 730.7 343.0 M 722.0 346.3 L 730.7 346.3"/>
<path class="d" d="M 684.7 373.5 L 684.7 315.0 L 696.0 312.7 L 709.5 313.5 L 717.7 319.5 M 684.7 373.5 L 709.5 375.0 L 717.7 370.5"/>
<path class="g" d="M 687.0 334.5 C 689.2 327.0 692.2 322.5 696.0 319.5 C 700.5 316.5 705.0 315.3 709.5 315.0 M 687.0 357.0 C 689.2 363.0 692.2 367.5 696.0 370.5 C 700.5 373.2 705.0 374.1 709.5 374.2"/>
<path class="l" d="M 690.7 335.2 C 693.0 328.5 696.0 324.0 699.3 321.3 M 690.7 356.2 C 693.0 362.2 696.0 366.0 699.3 368.7"/>
<path class="g" d="M 686.2 333.7 L 700.5 333.3 M 679.5 345.0 L 700.5 345.0 M 686.2 357.7 L 705.0 358.2"/>
<path class="l" d="M 687.0 334.5 L 687.0 357.0 M 695.2 333.7 L 695.2 357.7"/>
<path class="d" d="M 667.5 370.5 C 669.0 375.0 673.5 378.3 692.2 381.0 M 669.7 369.3 C 671.7 373.5 675.7 376.5 692.2 379.2 M 672.0 369.0 C 674.2 372.3 678.0 375.0 692.2 377.2"/>
<path class="d" d="M 671.2 309.0 C 669.3 311.2 668.7 313.5 669.0 316.5 M 674.2 309.3 C 672.0 311.7 671.4 314.2 671.7 317.2"/>
<path class="g" d="M 705.0 324.0 C 708.0 322.5 711.7 323.2 712.8 326.2 L 712.5 332.2 L 714.3 337.5 L 711.0 342.7 L 706.8 340.5 L 707.7 335.2 L 705.0 330.0 Z"/>
<path class="k" d="M 690.0 307.5 L 766.7 306.7 L 771.7 310.0"/>
<path class="d" d="M 771.7 310.0 L 775.0 315.8 L 779.2 317.5 L 780.0 322.5 L 776.7 327.5 L 773.3 329.2 L 773.3 360.0 L 776.7 361.7 L 780.0 366.7 L 779.2 371.7 L 775.0 373.3 L 771.7 379.2 L 766.7 382.5 L 745.0 382.0 L 706.7 380.0"/>
<path class="g" d="M 768.3 311.7 L 773.3 329.2 M 768.3 377.5 L 773.3 360.0 M 768.3 311.7 L 768.3 377.5"/>
<path class="g" d="M 766.7 306.7 L 768.3 311.7 M 766.7 382.5 L 768.3 377.5"/>
<path class="d" d="M 756.7 316.7 L 757.5 332.0 L 773.0 329.2 M 757.5 332.0 L 757.5 357.5 L 773.0 360.0 M 757.5 357.5 L 756.7 372.5"/>
<path class="g" d="M 775.0 315.8 L 770.8 320.0 L 771.7 328.3 M 775.0 373.3 L 770.8 369.2 L 771.7 360.8"/>
<path class="k" d="M 747.5 309.2 C 754.2 321.7 756.7 333.3 756.7 345.0 C 756.7 356.7 754.2 368.3 747.5 380.8"/>
<path class="d" d="M 743.3 310.0 C 750.3 322.5 753.0 333.3 753.0 345.0 C 753.0 356.7 750.3 367.5 743.3 380.0"/>
<path class="d" d="M 754.2 320.0 C 755.8 333.3 755.8 356.7 754.2 369.2"/>
<path class="d" d="M 711.7 316.3 L 740.0 319.2 C 744.2 321.7 746.3 333.3 746.7 345.0 C 746.3 356.7 744.2 368.3 740.0 370.8 L 711.7 373.7"/>
<path class="g" d="M 730.0 321.7 L 738.3 322.5 C 741.7 328.3 743.0 336.7 743.0 345.0 C 743.0 353.3 741.7 361.7 738.3 367.5 L 730.0 368.3"/>
<path class="d" d="M 719.2 318.0 L 730.8 319.7 L 731.7 326.7 L 727.5 327.5 L 719.7 325.0 Z M 719.2 372.0 L 730.8 370.3 L 731.7 363.3 L 727.5 362.5 L 719.7 365.0 Z"/>
<circle class="d" cx="723.8" cy="322.0" r="3.0"/>
<circle class="d" cx="723.8" cy="322.0" r="1.3"/>
<circle class="d" cx="724.5" cy="367.7" r="3.0"/>
<circle class="d" cx="724.5" cy="367.7" r="1.3"/>
<path class="k" d="M 731.7 324.7 C 734.2 335.0 734.2 355.0 731.7 365.3"/>
<path class="k" d="M 733.7 344.7 L 752.0 344.7"/>
<path class="k" d="M 745.8 340.8 L 745.8 348.7"/>
<path class="g" d="M 690.0 310.8 L 706.7 311.7 L 711.7 316.3 M 690.0 378.3 L 706.7 378.0 L 711.7 373.7"/>
<path class="l" d="M 700.0 311.7 C 693.3 321.7 690.0 331.7 690.0 345.0 C 690.0 358.3 693.3 368.3 700.0 378.0"/>
<path class="k" d="M 666.0 381.7 L 692.7 380.3 M 710.0 380.3 L 750.0 381.7 L 766.0 381.0"/>
<path class="d" d="M 667.3 369.0 C 670.0 371.0 674.0 371.7 676.7 373.0 L 692.7 377.7 M 668.7 373.0 L 675.3 375.7 L 692.7 379.0"/>
<path class="g" d="M 710.0 378.3 L 731.3 374.3 L 750.0 373.0 M 712.7 379.7 L 750.0 377.7"/>
<path class="d" d="M 694.7 377.7 L 708.7 377.7 M 694.0 378.3 L 694.0 385.0 M 709.3 378.3 L 709.3 385.0 M 694.0 385.0 L 709.3 385.0"/>
<path class="d" d="M 691.3 386.3 L 711.3 386.3 L 711.3 394.1 M 691.3 386.3 L 691.3 394.1"/>
<path class="d" d="M 669.4 401.8 C 680.0 397.0 690.0 395.6 701.0 395.6 C 713.0 395.6 725.0 397.5 735.0 402.3"/>
<path class="k" d="M 669.8 404.2 C 680.0 400.8 690.0 400.0 701.0 400.0 C 713.0 400.0 725.0 401.5 734.7 404.8"/>
<path class="d" d="M 669.4 401.8 L 669.2 407.2 M 735.0 402.3 L 735.2 407.6"/>
<path class="g" d="M 669.8 405.8 C 680.0 402.6 690.0 401.8 701.0 401.8 C 713.0 401.8 725.0 403.2 734.7 406.4"/>
<ellipse class="l" cx="701.3" cy="410.8" rx="18.5" ry="3.6"/>
<path class="d" d="M 669.2 407.2 C 673.0 410.5 680.0 413.8 687.0 415.0 L 687.5 420.0 C 686.5 428.0 684.0 438.0 683.6 445.0 C 683.6 452.0 684.5 460.0 685.5 467.0 L 687.0 477.0 L 686.2 503.0"/>
<path class="d" d="M 735.2 407.6 C 731.0 411.0 723.0 413.8 716.3 415.0 L 715.8 420.0 C 716.8 428.0 719.0 438.0 719.4 445.0 C 719.4 452.0 718.5 460.0 717.5 467.0 L 715.5 477.0 L 717.0 503.0"/>
<path class="k" d="M 687.6 428.0 C 686.3 435.0 685.2 440.0 685.0 445.0 C 685.0 452.0 685.9 460.0 686.9 467.0 L 688.2 476.0"/>
<path class="k" d="M 715.0 428.0 C 716.3 435.0 717.4 440.0 717.6 445.0 C 717.6 452.0 716.7 460.0 715.7 467.0 L 714.4 476.0"/>
<path class="k" d="M 685.6 503.6 C 688.0 499.6 715.0 499.6 717.6 503.6"/>
<ellipse class="d" cx="701.6" cy="504.4" rx="16.0" ry="3.4"/>
<ellipse class="g" cx="701.6" cy="504.8" rx="12.4" ry="2.2"/>
</svg>
</body></html>
